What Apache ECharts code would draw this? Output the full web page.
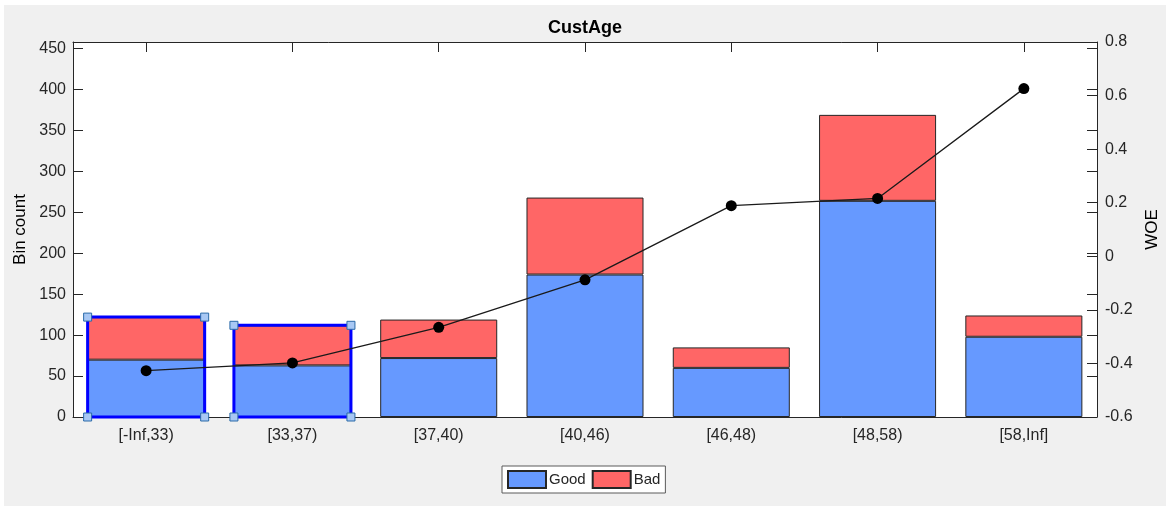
<!DOCTYPE html>
<html>
<head>
<meta charset="utf-8">
<script src="https://cdn.jsdelivr.net/npm/echarts@6/dist/echarts.min.js"></script>
<style>
  html, body { margin: 0; padding: 0; background: #ffffff; }
  #chart { position: absolute; left: 4px; top: 5px; width: 1162px; height: 501px; background: #f0f0f0; }
</style>
</head>
<body>
<div id="chart"></div>
<script>
// bins of CustAge
const bins = ['[-Inf,33)', '[33,37)', '[37,40)', '[40,46)', '[46,48)', '[48,58)', '[58,Inf]'];
const good = [70, 63, 72, 174, 60, 264, 98];
const bad = [52, 49, 47, 94, 25, 105, 26];
const woe = [-0.427, -0.398, -0.265, -0.088, 0.189, 0.216, 0.626];
const selected = [0, 1]; // bars with the blue selection frame

const countMax = 458;
const textColor = '#262626';
const fontFam = '"Liberation Sans", Arial, Helvetica, sans-serif';

let selData = selected.map(function (i) { return [i, good[i] + bad[i]]; });

let tick = { show: true, inside: true, length: 10, lineStyle: { color: textColor, width: 1 } };

let chart = echarts.init(document.getElementById('chart'));

let option = {
    backgroundColor: '#f0f0f0',
    animation: false,
    textStyle: { fontFamily: fontFam },
    title: {
        text: 'CustAge',
        left: 'center',
        top: 9,
        textStyle: { fontSize: 18, fontWeight: 'bold', color: '#000', fontFamily: fontFam }
    },
    grid: {
        left: 69,
        right: 69,
        top: 37,
        height: 375,
        outerBoundsMode: 'none',
        containLabel: false,
        show: true,
        backgroundColor: '#ffffff',
        borderWidth: 0
    },
    legend: {
        data: ['Good', 'Bad'],
        left: 498,
        top: 461,
        orient: 'horizontal',
        backgroundColor: '#ffffff',
        borderColor: '#5a5a5a',
        borderWidth: 1,
        borderRadius: 0,
        padding: [4, 5, 4, 5],
        itemWidth: 38,
        itemHeight: 17,
        itemGap: 6,
        icon: 'rect',
        textStyle: { fontSize: 15, color: textColor, fontFamily: fontFam, padding: [0, 0, 0, -2] }
    },
    xAxis: [
        {
            type: 'category',
            data: bins,
            position: 'bottom',
            axisLine: { show: true, onZero: false, lineStyle: { color: textColor, width: 1 } },
            axisTick: Object.assign({ alignWithLabel: true }, tick),
            axisLabel: { fontSize: 16, color: textColor, margin: 11, fontFamily: fontFam },
            splitLine: { show: false }
        },
        {
            type: 'category',
            data: bins,
            position: 'top',
            axisLine: { show: true, onZero: false, lineStyle: { color: textColor, width: 1 } },
            axisTick: Object.assign({ alignWithLabel: true }, tick),
            axisLabel: { show: false },
            splitLine: { show: false }
        }
    ],
    yAxis: [
        {
            type: 'value',
            position: 'left',
            min: 0,
            max: countMax,
            interval: 50,
            name: 'Bin count',
            nameLocation: 'middle',
            nameRotate: 90,
            nameGap: 42,
            nameTextStyle: { fontSize: 17, color: '#000', fontFamily: fontFam },
            axisLine: { show: true, onZero: false, lineStyle: { color: textColor } },
            axisTick: tick,
            axisLabel: {
                fontSize: 16, color: textColor, margin: 7, fontFamily: fontFam,
                formatter: function (v) { return v % 50 === 0 ? String(v) : ''; }
            },
            splitLine: { show: false }
        },
        {
            type: 'value',
            position: 'right',
            min: -0.6,
            max: 0.8,
            interval: 0.2,
            name: 'WOE',
            nameLocation: 'middle',
            nameRotate: 90,
            nameGap: 45,
            nameTextStyle: { fontSize: 17, color: '#000', fontFamily: fontFam },
            axisLine: { show: true, onZero: false, lineStyle: { color: textColor } },
            axisTick: tick,
            axisLabel: {
                fontSize: 16, color: textColor, margin: 8, fontFamily: fontFam,
                formatter: function (v) { return String(+v.toFixed(1)); }
            },
            splitLine: { show: false }
        },
        {
            // count ticks repeated on the right edge
            type: 'value',
            position: 'right',
            min: 0,
            max: countMax,
            interval: 50,
            axisLine: { show: false, onZero: false },
            axisTick: tick,
            axisLabel: { show: false },
            splitLine: { show: false }
        }
    ],
    series: [
        {
            name: 'Good',
            type: 'bar',
            stack: 'count',
            yAxisIndex: 0,
            barWidth: '80%',
            itemStyle: { color: '#6699ff', borderColor: '#262626', borderWidth: 1 },
            data: good,
            z: 2
        },
        {
            name: 'Bad',
            type: 'bar',
            stack: 'count',
            yAxisIndex: 0,
            barWidth: '80%',
            itemStyle: { color: '#ff6666', borderColor: '#262626', borderWidth: 1 },
            data: bad,
            z: 2
        },
        {
            name: 'sel',
            type: 'custom',
            yAxisIndex: 0,
            z: 3,
            data: selData,
            renderItem: function (params, api) {
                let top = api.coord([api.value(0), api.value(1)]);
                let base = api.coord([api.value(0), 0]);
                let w = api.size([1, 0])[0] * 0.8;
                let x0 = top[0] - w / 2, x1 = top[0] + w / 2;
                let y0 = top[1], y1 = base[1];
                let kids = [{
                    type: 'rect',
                    shape: { x: x0, y: y0, width: w, height: y1 - y0 },
                    style: { fill: null, stroke: '#0000ff', lineWidth: 3 }
                }];
                [[x0, y0], [x1, y0], [x0, y1], [x1, y1]].forEach(function (p) {
                    kids.push({
                        type: 'rect',
                        shape: { x: p[0] - 4, y: p[1] - 4, width: 8, height: 8 },
                        style: { fill: '#a8c8f4', stroke: '#2a6aa8', lineWidth: 1 }
                    });
                });
                return { type: 'group', children: kids };
            }
        },
        {
            name: 'WOE',
            type: 'line',
            yAxisIndex: 1,
            data: woe,
            symbol: 'circle',
            symbolSize: 11,
            itemStyle: { color: '#000' },
            lineStyle: { color: '#1a1a1a', width: 1.3 },
            z: 5
        }
    ]
};

chart.setOption(option);
</script>
</body>
</html>
